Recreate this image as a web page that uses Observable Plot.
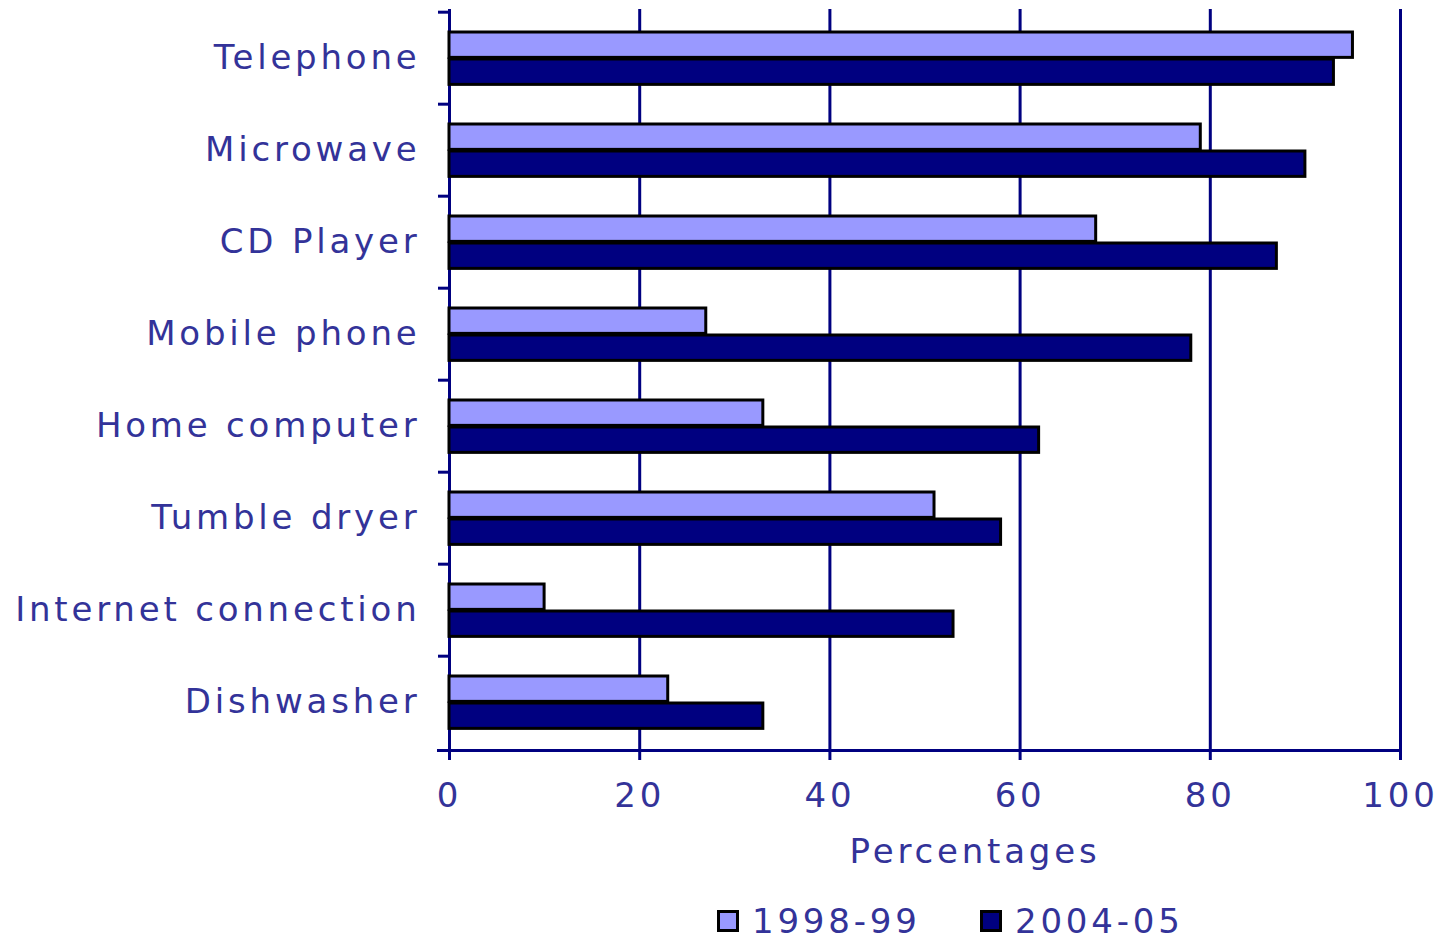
<!DOCTYPE html>
<html><head><meta charset="utf-8">
<script src="https://cdn.jsdelivr.net/npm/d3@7"></script>
<script src="https://cdn.jsdelivr.net/npm/@observablehq/plot@0.6"></script>
<style>
html,body{margin:0;padding:0;background:#fff;overflow:hidden;}
#chart svg{display:block;}
#chart svg text{letter-spacing:3.8px;}
#legend{position:absolute;left:0;top:901px;width:1452px;height:40px;font-family:"DejaVu Sans",sans-serif;font-size:34px;line-height:40px;color:#333399;letter-spacing:3.8px;}
#legend .item{position:absolute;top:0;height:40px;display:flex;align-items:center;}
#legend .sw{width:16px;height:16px;border:3px solid #000;margin-right:13px;}
</style></head><body>
<div id="chart"></div>
<div id="legend"></div>
<script>
const categories = ["Telephone","Microwave","CD Player","Mobile phone","Home computer","Tumble dryer","Internet connection","Dishwasher"];
const series = ["1998-99","2004-05"];
const values1998 = [95,79,68,27,33,51,10,23];
const values2004 = [93,90,87,78,62,58,53,33];
const xTicks = [0,20,40,60,80,100];
const colors = ["#9999ff","#000080"];

const data1 = categories.map((c,i)=>({category:c, series:series[0], value:values1998[i]}));
const data2 = categories.map((c,i)=>({category:c, series:series[1], value:values2004[i]}));

const H = 880, mt = 9, mb = 130;
const bw = (H - mt - mb) / categories.length;
const navy = "#000080", txt = "#333399";

const chart = Plot.plot({
  width: 1452, height: H,
  marginLeft: 449, marginRight: 52, marginTop: mt, marginBottom: mb,
  style: {fontFamily: "DejaVu Sans", fontSize: "34px", color: txt, background: "#fff"},
  x: {domain: [0,100]},
  y: {domain: categories, padding: 0},
  color: {domain: series, range: colors},
  marks: [
    Plot.ruleX(xTicks, {stroke: navy, strokeWidth: 3}),
    Plot.axisX({ticks: xTicks, tickSize: 10, stroke: navy, strokeWidth: 3, tickPadding: 22, fill: txt, label: null, fontSize: 34}),
    Plot.axisY({ticks: categories, tickSize: 11, stroke: navy, strokeWidth: 3, text: null, dy: -bw/2, label: null}),
    Plot.axisY({ticks: categories, tickSize: 0, tickPadding: 29, fill: txt, label: null, fontSize: 34}),
    Plot.frame({anchor: "bottom", insetLeft: -11, stroke: navy, strokeWidth: 3}),
    Plot.barX(data1, {y: "category", x: "value", fill: "series", stroke: "#000", strokeWidth: 3, insetTop: 20, insetBottom: bw - 46}),
    Plot.barX(data2, {y: "category", x: "value", fill: "series", stroke: "#000", strokeWidth: 3, insetTop: 47, insetBottom: bw - 73}),
    Plot.text(["Percentages"], {frameAnchor: "bottom", text: d => d, dx: 50, dy: 112, lineAnchor: "bottom", fill: txt, fontSize: 34})
  ]
});
document.getElementById("chart").appendChild(chart);

const legend = document.getElementById("legend");
const lefts = [717, 980];
series.forEach((s,i)=>{
  const it = document.createElement("div");
  it.className = "item";
  it.style.left = lefts[i] + "px";
  const sw = document.createElement("div");
  sw.className = "sw";
  sw.style.background = colors[i];
  const t = document.createElement("span");
  t.textContent = s;
  it.appendChild(sw); it.appendChild(t);
  legend.appendChild(it);
});
</script>
</body></html>
